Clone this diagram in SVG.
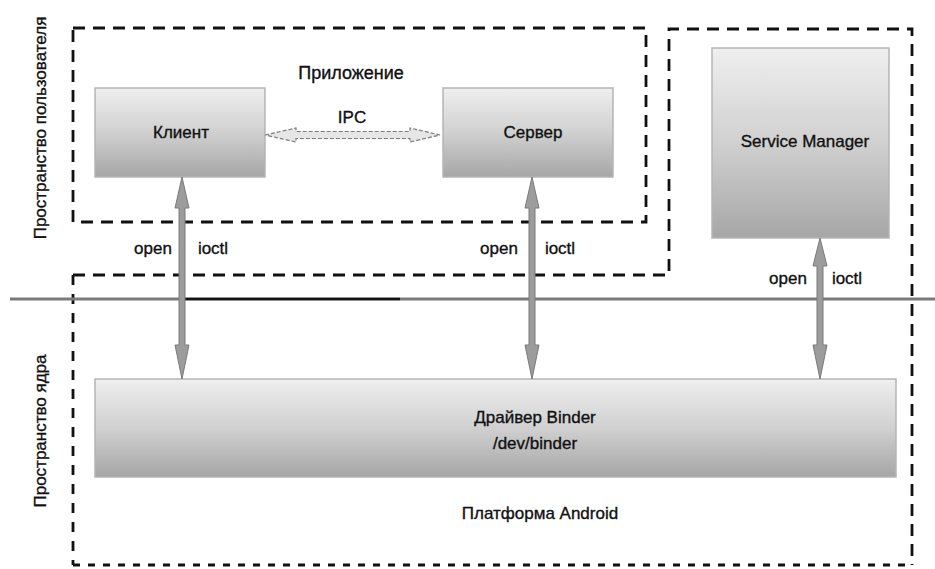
<svg xmlns="http://www.w3.org/2000/svg" width="935" height="569" viewBox="0 0 935 569">
<defs>
<linearGradient id="g" x1="0" y1="0" x2="0" y2="1">
<stop offset="0" stop-color="#efefef"/>
<stop offset="0.5" stop-color="#d0d0d0"/>
<stop offset="1" stop-color="#a6a6a6"/>
</linearGradient>
</defs>
<style>
.t{font-family:"Liberation Sans",Arial,sans-serif;font-size:17px;fill:#111;stroke:#111;stroke-width:0.35;text-anchor:middle}
.box{fill:url(#g);stroke:#b5b5b5;stroke-width:1.5}
.dash{fill:none;stroke:#111;stroke-width:2.8;stroke-dasharray:12 8}
.arr{fill:#9c9c9c;stroke:#7a7a7a;stroke-width:1}
.ipc{fill:#e6e6e6;stroke:#7a7a7a;stroke-width:1.2;stroke-dasharray:4 2}
</style>
<rect width="935" height="569" fill="#fff"/>
<g id="regions">
<rect class="dash" x="73" y="28" width="573" height="194"/>
<path class="dash" d="M73,275 L669,275 L669,29 L912,29 L912,565"/>
<path class="dash" d="M73,275 L73,565" style="stroke-dasharray:10 9"/>
<path class="dash" d="M73,565 L912,565" style="stroke-dasharray:7 8"/>
</g>
<g id="boundary">
<line x1="10" y1="299" x2="935" y2="299" stroke="#7a7a7a" stroke-width="3"/>
<line x1="185" y1="299" x2="400" y2="299" stroke="#111" stroke-width="2.5"/>
</g>
<g id="labels">
<text class="t" transform="translate(46,128) rotate(-90)">Пространство пользователя</text>
<text class="t" transform="translate(46,431) rotate(-90)">Пространство ядра</text>
<text class="t" x="351" y="79" style="font-size:18px">Приложение</text>
<text class="t" x="540" y="519">Платформа Android</text>
</g>
<g id="client"><rect class="box" x="95" y="88" width="170" height="89"/><text class="t" x="181" y="138">Клиент</text></g>
<g id="server"><rect class="box" x="443" y="88" width="170" height="89"/><text class="t" x="533" y="138">Сервер</text></g>
<g id="servicemanager"><rect class="box" x="712" y="48" width="177" height="190"/><text class="t" x="805" y="147">Service Manager</text></g>
<g id="binder"><rect class="box" x="95" y="379" width="801" height="98"/><text class="t" x="535" y="423">Драйвер Binder</text><text class="t" x="535" y="449">/dev/binder</text></g>
<g id="connectors">
<polygon class="ipc" points="265,135 296,128 296,131.5 410,131.5 410,128 440,135 410,142 410,138.5 296,138.5 296,142"/>
<text class="t" x="352" y="123">IPC</text>
<polygon class="arr" points="182,177 189,208 185,208 185,345 189,345 182,379 175,345 179,345 179,208 175,208"/>
<polygon class="arr" points="532,177 539,208 535,208 535,345 539,345 532,379 525,345 529,345 529,208 525,208"/>
<polygon class="arr" points="820,238 827,266 823,266 823,345 827,345 820,379 813,345 817,345 817,266 813,266"/>
<text class="t" x="153" y="254">open</text>
<text class="t" x="213" y="254">ioctl</text>
<text class="t" x="499" y="254">open</text>
<text class="t" x="560" y="254">ioctl</text>
<text class="t" x="788" y="284">open</text>
<text class="t" x="847" y="284">ioctl</text>
</g>
</svg>
